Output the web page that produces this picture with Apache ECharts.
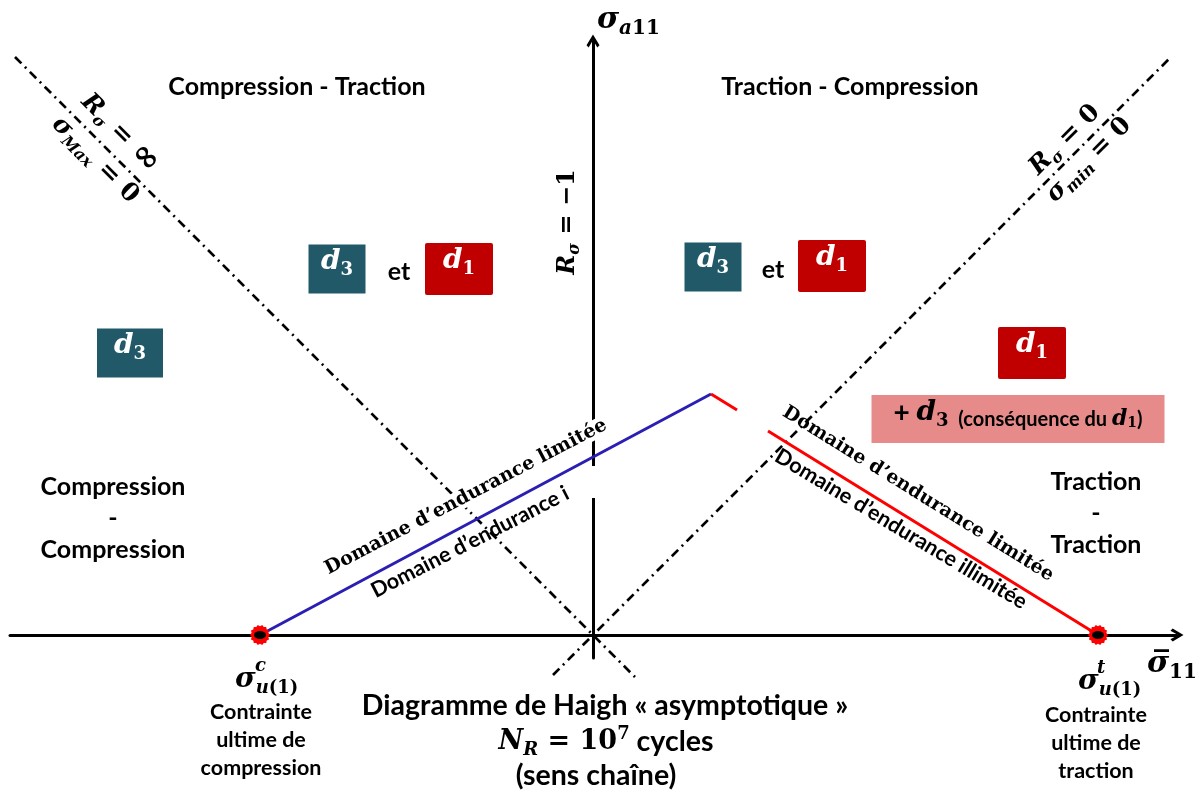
<!DOCTYPE html>
<html><head><meta charset="utf-8">
<script src="https://cdn.jsdelivr.net/npm/echarts@6/dist/echarts.min.js"></script>
<style>html,body{margin:0;padding:0;background:#fff}#c{width:1202px;height:796px}</style>
</head><body><div id="c"></div>
<script>
// ---- Diagram values (σ̄11 on the horizontal axis, σa11 on the vertical axis) ----
const ultimateStress = [-333, 505];                       // σu(1)^c , σu(1)^t
const limitedCompression = [[-333, 0], [118, 241]];       // blue branch
const limitedStub = [[118, 241], [144, 225]];             // short red piece
const limitedTraction = [[175, 204], [505, 0]];           // red branch
const lineRinf = [[-578, 578], [42, -42]];                // Rσ = ∞ (σMax = 0)
const lineR0 = [[-40, -40], [576, 576]];                  // Rσ = 0 (σmin = 0)
const axisGap = [[0, 137], [0, 169]];
const d3Boxes = [[-463, 282], [-256, 366], [120, 368]];
const d1Boxes = [[-134, 366], [239, 369], [439, 282]];
const etLabels = [[-194, 363], [180, 365]];

const SANS = 'Lato, "Liberation Sans", sans-serif';
const SERIF = '"DejaVu Serif", serif';
const TEAL = '#215968', RED = '#C00000', PINK = '#E68A8A';

function mrich(size, color, extra) {
  const sub = Math.round(size * 0.65);
  const b = { color: color, fontWeight: 'bold' };
  return Object.assign({
    m: Object.assign({}, b, { fontFamily: SERIF, fontStyle: 'italic', fontSize: size, lineHeight: Math.round(size * 1.25) }),
    n: Object.assign({}, b, { fontFamily: SERIF, fontSize: size, lineHeight: Math.round(size * 1.25) }),
    s: Object.assign({}, b, { fontFamily: SERIF, fontStyle: 'italic', fontSize: sub, lineHeight: Math.round(size * 0.57), verticalAlign: 'bottom' }),
    sn: Object.assign({}, b, { fontFamily: SERIF, fontSize: sub, lineHeight: Math.round(size * 0.57), verticalAlign: 'bottom' }),
    sup: Object.assign({}, b, { fontFamily: SERIF, fontSize: sub, lineHeight: Math.round(size * 0.7), verticalAlign: 'top' }),
    t: Object.assign({}, b, { fontFamily: SANS, fontSize: size, lineHeight: Math.round(size * 1.25) })
  }, extra || {});
}
function T(coord, fmt, rich, opts) {
  return { value: coord, label: Object.assign({ show: true, position: 'inside', formatter: fmt, rich: rich, align: 'center', verticalAlign: 'middle' }, opts || {}) };
}
function sansStyle(size, lh, extra) {
  return Object.assign({ fontFamily: SANS, fontWeight: 'bold', fontSize: size, lineHeight: lh, color: '#000' }, extra || {});
}

const texts = [];
const r25 = { t: sansStyle(25, 31.5) };
texts.push(T([-296, 548], '{t|Compression - Traction}', r25));
texts.push(T([257, 548], '{t|Traction - Compression}', r25));
texts.push(T([-480, 117], '{t|Compression}\n{t|-}\n{t|Compression}', r25));
texts.push(T([503, 122], '{t|Traction}\n{t|-}\n{t|Traction}', r25));
etLabels.forEach(c => texts.push(T(c, '{t|et}', r25)));

// axis names and ratio lines
const r25m = mrich(25, '#000', { inf: { fontFamily: SERIF, fontWeight: 'bold', fontSize: 34, lineHeight: 31, color: '#000' } });
texts.push(T([4, 615], '{m|σ}{s|a}{sn|11}', mrich(30, '#000'), { align: 'left' }));
texts.push(T([554, -29], '{m|σ̅}{sn|11}', mrich(30, '#000'), { align: 'left' }));
texts.push(T([-25, 413], '{m|R}{s|σ}{n| = −1}', mrich(24, '#000'), { rotate: 90 }));
texts.push(T([-473, 502], '{m|R}{s|σ}{n| = }{inf|∞}', r25m, { rotate: -45 }));
texts.push(T([-498, 475], '{m|σ}{s|Max}{n| = 0}', r25m, { rotate: -45 }));
texts.push(T([472, 495], '{m|R}{s|σ}{n| = 0}', r25m, { rotate: 45 }));
texts.push(T([496, 475], '{m|σ}{s|min}{n| = 0}', r25m, { rotate: 45 }));

// boxes
const rw = mrich(28, '#fff');
d3Boxes.forEach((c, i) => texts.push(T(c, '{m|d}{sn|3}', rw, { backgroundColor: TEAL, width: i === 0 ? 66 : 57, height: 49 })));
d1Boxes.forEach(c => texts.push(T(c, '{m|d}{sn|1}', rw, { backgroundColor: RED, width: 68, height: 52, borderRadius: 2 })));
const rp = mrich(28, '#000', {
  t: sansStyle(28, 35),
  u: sansStyle(20, 27, { verticalAlign: 'bottom' }),
  mm: { fontFamily: SERIF, fontStyle: 'italic', fontWeight: 'bold', fontSize: 22, lineHeight: 28, verticalAlign: 'bottom', color: '#000' },
  ss: { fontFamily: SERIF, fontWeight: 'bold', fontSize: 14, lineHeight: 14, verticalAlign: 'bottom', color: '#000' }
});
texts.push(T([425, 216], '{t|+ }{m|d}{sn|3}{u|  (conséquence du }{mm|d}{ss|1}{u|)}', rp, { backgroundColor: PINK, width: 293, height: 48 }));

// endurance domain labels
const serifDom = { fontFamily: SERIF, fontWeight: 'bold', fontSize: 19, color: '#000' };
const sansDom = { fontFamily: SANS, fontWeight: 'bold', fontSize: 21.5, color: '#000' };
texts.push(T([-127, 138], '{a|Domaine d’endurance limitée}', { a: serifDom }, { rotate: 27.6, backgroundColor: '#fff', padding: [0, 2] }));
texts.push(T([-123, 93], '{a|Domaine d’endurance i}', { a: sansDom }, { rotate: 27.2 }));
texts.push(T([325, 141], '{a|Domaine d’endurance limitée}', { a: serifDom }, { rotate: -31.8 }));
texts.push(T([308, 106], '{a|Domaine d’endurance illimitée}', { a: sansDom }, { rotate: -31 }));

// ultimate stress labels
const r28 = mrich(28, '#000');
const rs = { c: { fontFamily: SERIF, fontStyle: 'italic', fontWeight: 'bold', fontSize: 18, color: '#000' } };
const rc = { t: sansStyle(21.5, 28) };
texts.push(T([-358, -45], '{m|σ}{s|u}{sn|(1)}', r28, { align: 'left' }));
texts.push(T([-338, -31], '{c|c}', rs, { align: 'left' }));
texts.push(T([-332, -105], '{t|Contrainte}\n{t|ultime de}\n{t|compression}', rc));
texts.push(T([485, -47], '{m|σ}{s|u}{sn|(1)}', r28, { align: 'left' }));
texts.push(T([504, -33], '{c|t}', rs, { align: 'left' }));
texts.push(T([503, -108], '{t|Contrainte}\n{t|ultime de}\n{t|traction}', rc));

// title
const rt = mrich(27, '#000', { t: sansStyle(28.5, 34) });
texts.push(T([12, -71], '{t|Diagramme de Haigh « asymptotique »}', rt));
texts.push(T([13, -107], '{m|N}{s|R}{n| = 10}{sup|7}{t| cycles}', rt));
texts.push(T([3, -141], '{t|(sens chaîne)}', rt));

const arrow = 'path://M6,0 L12,10 L10,12 L6,5 L2,12 L0,10 Z';
const dashDot = [9, 5, 2, 5];
// jagged blob symbol for the ultimate-stress points
let blob = 'path://';
for (let k = 0; k < 28; k++) {
  const a = k / 28 * Math.PI * 2, rr = k % 2 ? 8.6 : 10;
  blob += (k ? 'L' : 'M') + (10 + rr * Math.cos(a)).toFixed(2) + ',' + (10 + rr * Math.sin(a)).toFixed(2) + ' ';
}
blob += 'Z';

const option = {
  backgroundColor: '#fff',
  animation: false,
  grid: { left: 10, right: 25, top: 41, bottom: 138 },
  xAxis: {
    type: 'value', min: -583, max: 584,
    splitLine: { show: false }, axisTick: { show: false }, axisLabel: { show: false },
    axisLine: { show: true, onZero: true, symbol: ['none', arrow], symbolSize: [14, 13], lineStyle: { color: '#000', width: 3 } }
  },
  yAxis: {
    type: 'value', min: -23, max: 594,
    splitLine: { show: false }, axisTick: { show: false }, axisLabel: { show: false },
    axisLine: { show: true, onZero: true, symbol: ['none', arrow], symbolSize: [14, 13], lineStyle: { color: '#000', width: 3 } }
  },
  series: [
    { type: 'line', data: lineRinf, showSymbol: false, clip: false, silent: true, z: 1, lineStyle: { color: '#000', width: 2.7, type: dashDot } },
    { type: 'line', data: lineR0, showSymbol: false, clip: false, silent: true, z: 1, lineStyle: { color: '#000', width: 2.7, type: dashDot } },
    { type: 'line', data: axisGap, showSymbol: false, clip: false, silent: true, z: 2, lineStyle: { color: '#fff', width: 9 } },
    { type: 'line', data: limitedCompression, showSymbol: false, clip: false, silent: true, z: 5, lineStyle: { color: '#2B1FB3', width: 3 } },
    { type: 'line', data: limitedStub, showSymbol: false, clip: false, silent: true, z: 5, lineStyle: { color: '#FF0000', width: 3 } },
    { type: 'line', data: limitedTraction, showSymbol: false, clip: false, silent: true, z: 5, lineStyle: { color: '#FF0000', width: 3 } },
    { type: 'scatter', data: ultimateStress.map(v => [v, 0]), symbol: blob, symbolSize: 20, clip: false, silent: true, z: 6, itemStyle: { color: '#FF0000', opacity: 1 } },
    { type: 'scatter', data: ultimateStress.map(v => [v, 0]), symbol: 'circle', symbolSize: [12, 8], clip: false, silent: true, z: 7, itemStyle: { color: '#000', opacity: 1 } },
    { type: 'scatter', data: texts, symbolSize: 1, clip: false, silent: true, z: 10, itemStyle: { color: 'rgba(0,0,0,0)', opacity: 1 } }
  ]
};
const chart = echarts.init(document.getElementById('c'));
chart.setOption(option);
</script>
</body></html>
